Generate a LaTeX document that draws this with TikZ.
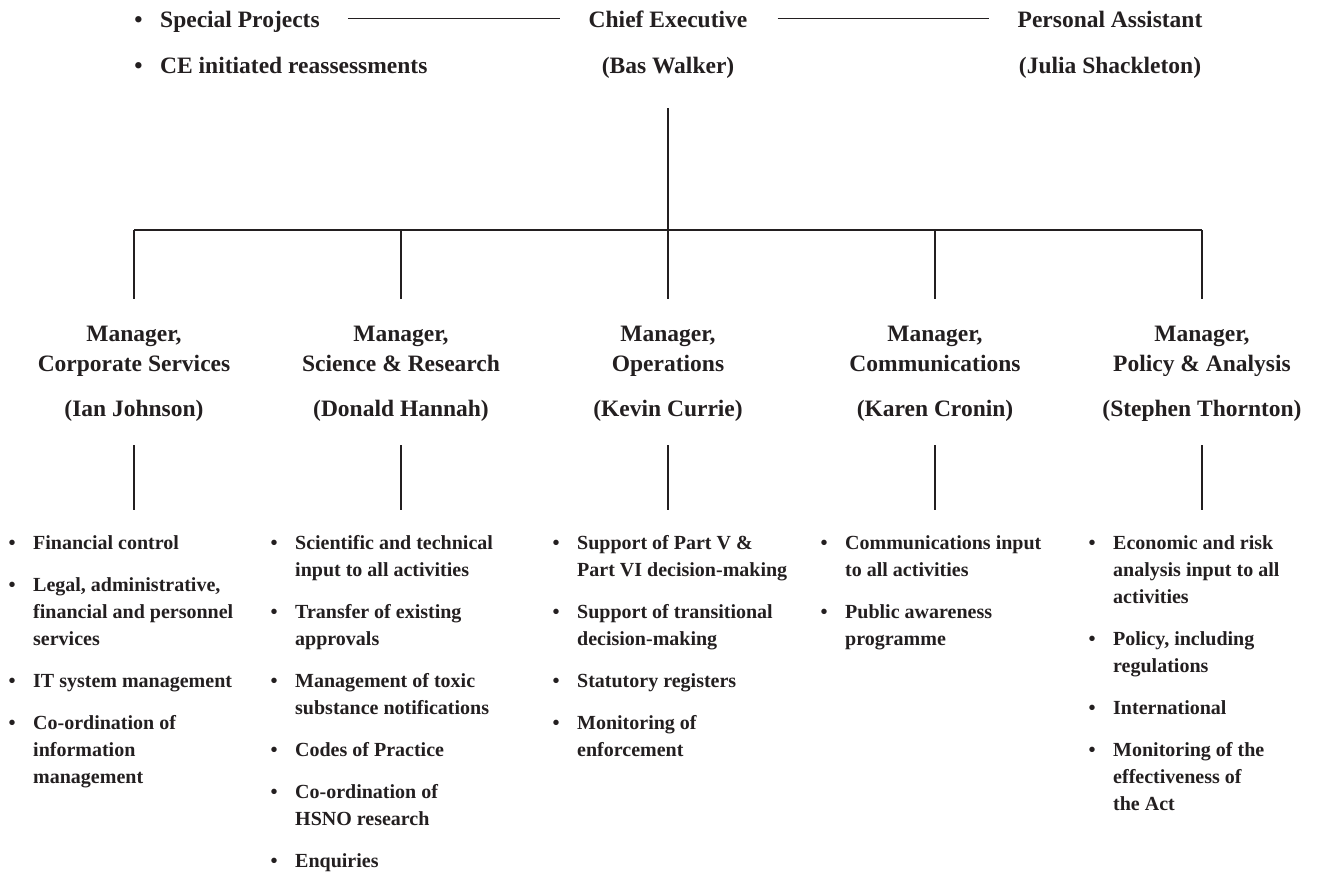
\documentclass[tikz,border=0pt]{standalone}
\usepackage{fontspec}
\setmainfont{Liberation Serif}
\usepackage{tikz}

\definecolor{ink}{HTML}{231F20}
\newcommand{\bul}{\llap{\textbullet\hspace{17.5pt}}}
\newcommand{\leftlines}[1]{\begin{tabular}[t]{@{}l@{}}#1\end{tabular}}
\newcommand{\midlines}[1]{\begin{tabular}[t]{@{}c@{}}#1\end{tabular}}

\tikzset{
  top/.style={font=\fontsize{23.5}{30}\selectfont\bfseries, text=ink,
    inner sep=0pt, text height=17pt, text depth=0pt},
  mgr/.style={font=\fontsize{23.5}{30}\selectfont\bfseries, text=ink,
    inner sep=0pt, anchor=base},
  duty/.style={font=\fontsize{20}{27}\selectfont\bfseries, text=ink,
    inner sep=0pt, anchor=base west},
  link/.style={draw=ink, line width=1.3pt}
}

\begin{document}
\begin{tikzpicture}[x=1pt, y=-1pt]
        \useasboundingbox (0,0) rectangle (1329,876);

        % Chief executive row
        \node (sp) [top, anchor=base west] at (160,27) {\bul Special Projects};
        \node (cei) [top, anchor=base west] at (160,73) {\bul CE initiated reassessments};
        \node (ce) [top, anchor=base] at (668,27) {Chief Executive};
        \node (bw) [top, anchor=base] at (668,73) {(Bas Walker)};
        \node (pa) [top, anchor=base] at (1110,27) {Personal Assistant};
        \node (js) [top, anchor=base] at (1110,73) {(Julia Shackleton)};
        \draw[link, shorten <=28pt, shorten >=29pt] (sp.east) -- (ce.west);
        \draw[link, shorten <=30pt, shorten >=28pt] (ce.east) -- (pa.west);

        % Bus to the managers
        \coordinate (hub) at (668,230);
        \coordinate (busW) at (134,230);
        \coordinate (busE) at (1202,230);
        \draw[link, shorten <=35pt] (bw.south) -- (hub);
        \draw[link] (busW) -- (busE);

        % Managers
        \foreach \x/\id/\role/\who in {134/cs/Corporate Services/Ian Johnson,
            401/sr/Science \& Research/Donald Hannah, 668/op/Operations/Kevin Currie,
            935/cm/Communications/Karen Cronin, 1202/pl/Policy \& Analysis/Stephen Thornton}
        {
            \node (m\id) [mgr] at (\x,341) {\midlines{Manager,\\\role}};
            \node (n\id) [mgr] at (\x,416) {\midlines{(\who)}};
            \draw[link, shorten >=21pt] (busW -| m\id.north) -- (m\id.north);
        }

        % Duties
        \foreach \y/\txt [count=\i] in {549/{Financial control},
            591/{Legal, administrative,\\financial and personnel\\services},
            687/{IT system management}, 729/{Co-ordination of\\information\\management}}
            \node (cs\i) [duty] at (33,\y) {\bul\leftlines{\txt}};
        \foreach \y/\txt [count=\i] in {549/{Scientific and technical\\input to all activities},
            618/{Transfer of existing\\approvals},
            687/{Management of toxic\\substance notifications}, 756/{Codes of Practice},
            798/{Co-ordination of\\HSNO research}, 867/{Enquiries}}
            \node (sr\i) [duty] at (295,\y) {\bul\leftlines{\txt}};
        \foreach \y/\txt [count=\i] in {549/{Support of Part V \&\\Part VI decision-making},
            618/{Support of transitional\\decision-making},
            687/{Statutory registers}, 729/{Monitoring of\\enforcement}}
            \node (op\i) [duty] at (577,\y) {\bul\leftlines{\txt}};
        \foreach \y/\txt [count=\i] in {549/{Communications input\\to all activities},
            618/{Public awareness\\programme}}
            \node (cm\i) [duty] at (845,\y) {\bul\leftlines{\txt}};
        \foreach \y/\txt [count=\i] in {549/{Economic and risk\\analysis input to all\\activities},
            645/{Policy, including\\regulations}, 714/{International},
            756/{Monitoring of the\\effectiveness of\\the Act}}
            \node (pl\i) [duty] at (1113,\y) {\bul\leftlines{\txt}};

        \foreach \id in {cs,sr,op,cm,pl}
            \draw[link, shorten <=20pt, shorten >=20pt] (n\id.south) -- (n\id.south |- \id1.north);
\end{tikzpicture}
\end{document}
